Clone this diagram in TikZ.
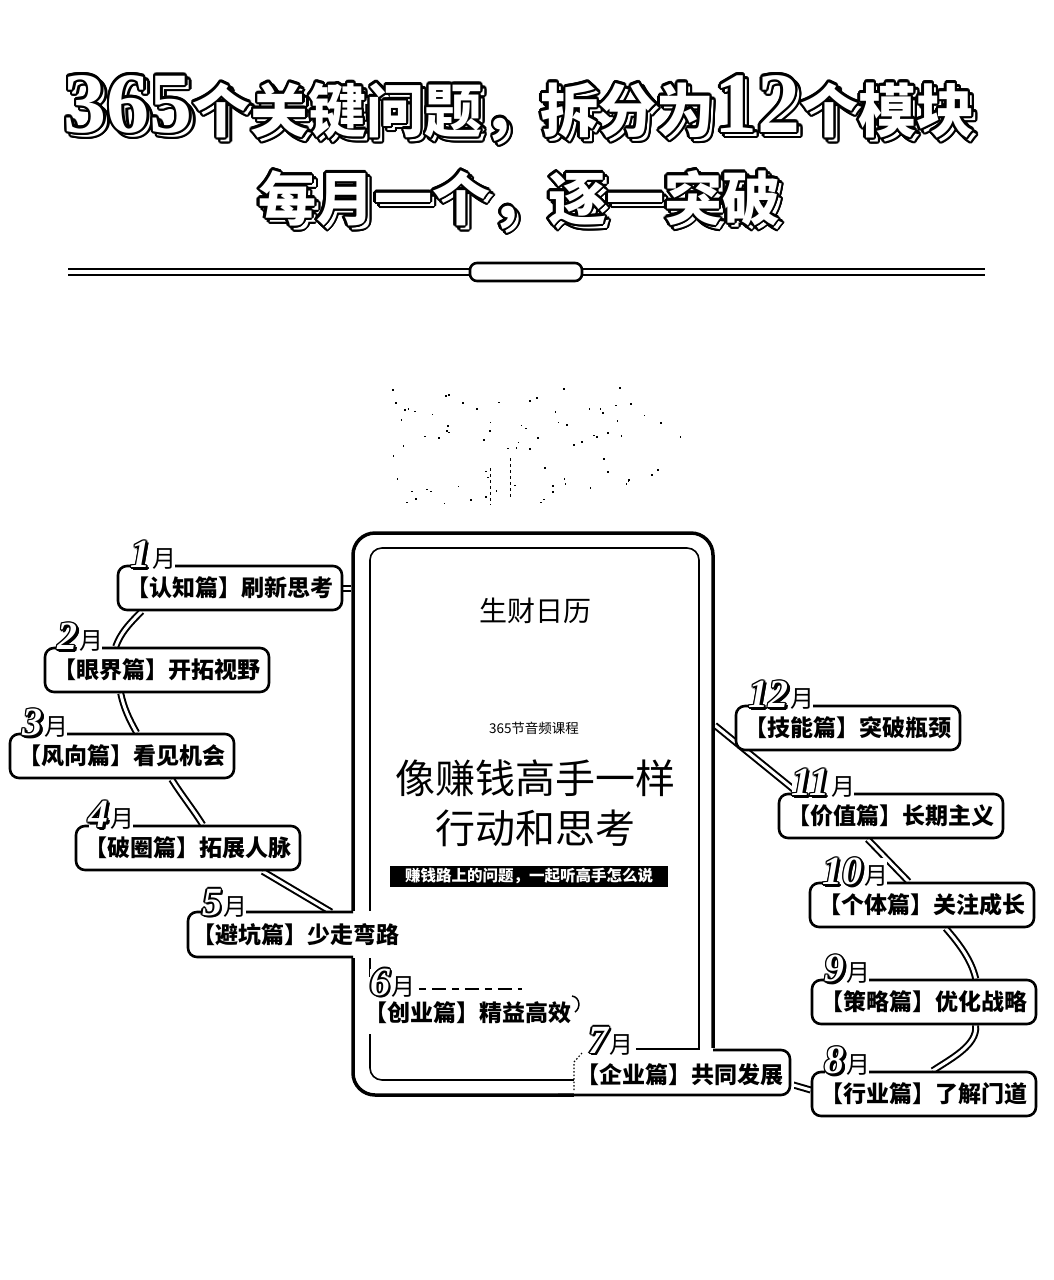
\documentclass[tikz,border=0pt]{standalone}
\usepackage{fontspec}
\usetikzlibrary{calc}
\newfontfamily\cjk{Noto Sans CJK SC}
\newfontfamily\numf{Liberation Serif}
\pgfdeclarelayer{bg}
\pgfsetlayers{bg,main}
\newcommand\tnum{\numf\bfseries\fontsize{86}{86}\selectfont}
\newcommand\tcjk{\cjk\bfseries\fontsize{58}{58}\selectfont}
\newcommand\tagnum{\numf\bfseries\itshape\fontsize{40}{40}\selectfont}
\newcommand\tagyue{\cjk\fontsize{24}{24}\selectfont}
\newcommand\lblfont{\cjk\bfseries\fontsize{23}{23}\selectfont}
% outlined text: #1 name, #2 coordinate, #3 radius, #4 text
\newcommand\outlinetext[4]{%
  \foreach \ang in {0,22.5,...,337.5}{%
    \node[anchor=base, inner sep=0pt, text=black] at ($(#2)+(\ang:#3)$) {#4};}%
  \node[anchor=base, inner sep=0pt, text=white] (#1) at (#2) {#4};}
% month tag: #1 name, #2 box top-left, #3 digits
\newcommand\mtag[3]{%
  \coordinate (#1p) at ($(#2)+(14,3)$);
  \node[anchor=base west, inner sep=0pt, fill=white] (#1bg) at (#1p) {\tagnum\phantom{#3}\tagyue\phantom{月}};
  \foreach \dx/\dy in {1.4/0,-1.4/0,0/1.4,0/-1.4,1/1,-1/1,1/-1,-1/-1,2.2/2.2,2.6/1.6,1.6/2.6}{%
    \node[anchor=base west, inner sep=0pt, font=\tagnum] at ($(#1p)+(\dx,\dy)$) {#3};}
  \node[anchor=base west, inner sep=0pt, font=\tagnum, text=white] (#1n) at (#1p) {#3};
  \node[anchor=base west, inner sep=0pt, font=\tagyue] (#1y) at ($(#1n.base east)+(1,0)$) {月};
}
\begin{document}
\begin{tikzpicture}[x=1pt,y=-1pt,
  conn/.style={line width=2pt, double=white, double distance=3pt},
  mbox/.style={draw, fill=white, line width=2.6pt, rounded corners=9pt, minimum width=224pt, minimum height=44pt, inner sep=0pt, font=\lblfont},
  lbl/.style={inner sep=0pt, font=\lblfont},
  boxline/.style={line width=2.6pt}]
\useasboundingbox (0,0) rectangle (1054,1280);
\begin{pgfonlayer}{bg}\fill[white] (0,0) rectangle (1054,1280);\end{pgfonlayer}

% ---- title
\coordinate (t1s) at (523,136);
\coordinate (t1) at (519,132);
\outlinetext{t1shadow}{t1s}{2.5}{\tnum 365\tcjk 个关键问题，拆分为\tnum 12\tcjk 个模块}
\outlinetext{t1main}{t1}{2.5}{\tnum 365\tcjk 个关键问题，拆分为\tnum 12\tcjk 个模块}
\coordinate (t2s) at (523,224);
\coordinate (t2) at (519,220);
\outlinetext{t2shadow}{t2s}{2.5}{\tcjk 每月一个，逐一突破}
\outlinetext{t2main}{t2}{2.5}{\tcjk 每月一个，逐一突破}

% ---- divider
\draw[line width=2.6pt, double=white, double distance=3.6pt] (68,272) -- (985,272);
\node[draw, line width=2.6pt, fill=white, rounded corners=7pt, minimum width=112pt, minimum height=18pt, inner sep=0pt] (cap) at (526,272) {};

% ---- faint specks
\pgfmathsetseed{42}
\foreach \i in {1,...,80}{%
  \pgfmathsetmacro\rx{rand}\pgfmathsetmacro\ry{rnd}%
  \fill ({530+150*\rx},{385+118*\ry}) rectangle ++(1.6,1.6);}
\draw[line width=0.8pt, dash pattern=on 3pt off 3pt] (490,468) -- (490,505);
\draw[line width=0.8pt, dash pattern=on 3pt off 3pt] (510,458) -- (510,498);

% ---- device
\node[draw, line width=3.5pt, rounded corners=22pt, minimum width=360pt, minimum height=562pt, inner sep=0pt] (dev) at (533,814) {};
\node[draw, line width=1.6pt, rounded corners=12pt, minimum width=329pt, minimum height=532pt, inner sep=0pt] (devin) at (534.5,814) {};
\node[font=\cjk\fontsize{28}{28}\selectfont, inner sep=0pt] (brand) at (535,611) {生财日历};
\node[font=\cjk\fontsize{13.5}{13.5}\selectfont, inner sep=0pt] (sub) at (534,728) {365节音频课程};
\node[font=\cjk\fontsize{40}{40}\selectfont, inner sep=0pt] (h1) at (535,778) {像赚钱高手一样};
\node[font=\cjk\fontsize{40}{40}\selectfont, inner sep=0pt] (h2) at (535,828) {行动和思考};
\node[fill=black, text=white, font=\cjk\bfseries\fontsize{15.5}{15.5}\selectfont, minimum width=278pt, minimum height=21pt, inner sep=0pt] (ban) at (529,876) {赚钱路上的问题，一起听高手怎么说};

% ---- left boxes
\node[mbox] (b1) at (230,588) {【认知篇】刷新思考};
\mtag{m1}{b1.north west}{1}
\node[mbox] (b2) at (157,670) {【眼界篇】开拓视野};
\mtag{m2}{b2.north west}{2}
\node[mbox] (b3) at (122,756) {【风向篇】看见机会};
\mtag{m3}{b3.north west}{3}
\node[mbox] (b4) at (188,848) {【破圈篇】拓展人脉};
\mtag{m4}{b4.north west}{4}

% 5月 (merged with device edge)
\fill[white] (186,911) rectangle (410,958);
\draw[boxline, rounded corners=9pt] (353,912) -- (188,912) -- (188,957) -- (353,957);
\coordinate (b5tl) at (188,912);
\node[lbl] (b5) at (296,935) {【避坑篇】少走弯路};
\mtag{m5}{b5tl}{5}

% 6月 (inside device)
\fill[white] (362,977) rectangle (586,1034);
\coordinate (b6tl) at (356,992);
\mtag{m6}{b6tl}{6}
\draw[line width=1.3pt, dash pattern=on 7pt off 6pt on 14pt off 6pt] ($(m6y.base east)+(3,-6)$) -- (522,989);
\draw[line width=1.5pt] (572,996) .. controls (580,997) and (581,1008) .. (575,1012);
\node[lbl] (b6) at (468,1013) {【创业篇】精益高效};

% 7月 (on device bottom right)
\fill[white] (574,1048) rectangle (794,1099);
\draw[boxline, rounded corners=9pt] (713,1050) -- (790,1050) -- (790,1095) -- (558,1095);
\coordinate (b7tl) at (574,1050);
\coordinate (b7r) at (790,1084);
\mtag{m7}{b7tl}{7}
\draw[line width=1.3pt] ($(m7y.base east)+(2,-4)$) -- (700,1049);
\draw[line width=1.2pt, dash pattern=on 1.5pt off 2pt] (574,1090) -- (574,1062) -- (582,1053);
\node[lbl] (b7) at (680,1075) {【企业篇】共同发展};

% ---- right boxes
\node[mbox] (b12) at (848,728) {【技能篇】突破瓶颈};
\mtag{m12}{b12.north west}{12}
\node[mbox] (b11) at (891,816) {【价值篇】长期主义};
\mtag{m11}{b11.north west}{11}
\node[mbox] (b10) at (922,905) {【个体篇】关注成长};
\mtag{m10}{b10.north west}{10}
\node[mbox] (b9) at (924,1002) {【策略篇】优化战略};
\mtag{m9}{b9.north west}{9}
\node[mbox] (b8) at (924,1094) {【行业篇】了解门道};
\mtag{m8}{b8.north west}{8}

% ---- connectors
\begin{pgfonlayer}{bg}
\draw[conn] (b1.east) -- (dev.west |- b1.east);
\draw[conn] ($(b1.south west)+(25,0)$) .. controls +(-12,12) and +(5,-14) .. ($(b2.north west)+(72,0)$);
\draw[conn] ($(b2.south west)+(77,0)$) .. controls +(3,14) and +(-8,-14) .. ($(b3.north west)+(128,0)$);
\draw[conn] ($(b3.south west)+(163,0)$) .. controls +(10,16) and +(-10,-16) .. ($(b4.north west)+(128,0)$);
\draw[conn] ($(b4.south west)+(188,0)$) -- ($(dev.west)+(-20,98)$);
\draw[conn] ($(dev.north east)+(0,194)$) -- ($(b11.north west)+(20,0)$);
\draw[conn] ($(b11.south west)+(90,0)$) -- ($(b10.north west)+(100,0)$);
\draw[conn] ($(b10.south west)+(137,0)$) .. controls +(14,16) and +(-4,-18) .. ($(b9.north west)+(165,0)$);
\draw[conn] ($(b9.south west)+(165,0)$) .. controls +(2,20) and +(18,-12) .. ($(b8.north west)+(122,0)$);
\draw[conn] (b7r) -- ($(b8.west)+(0,-4)$);
\end{pgfonlayer}
\end{tikzpicture}
\end{document}
